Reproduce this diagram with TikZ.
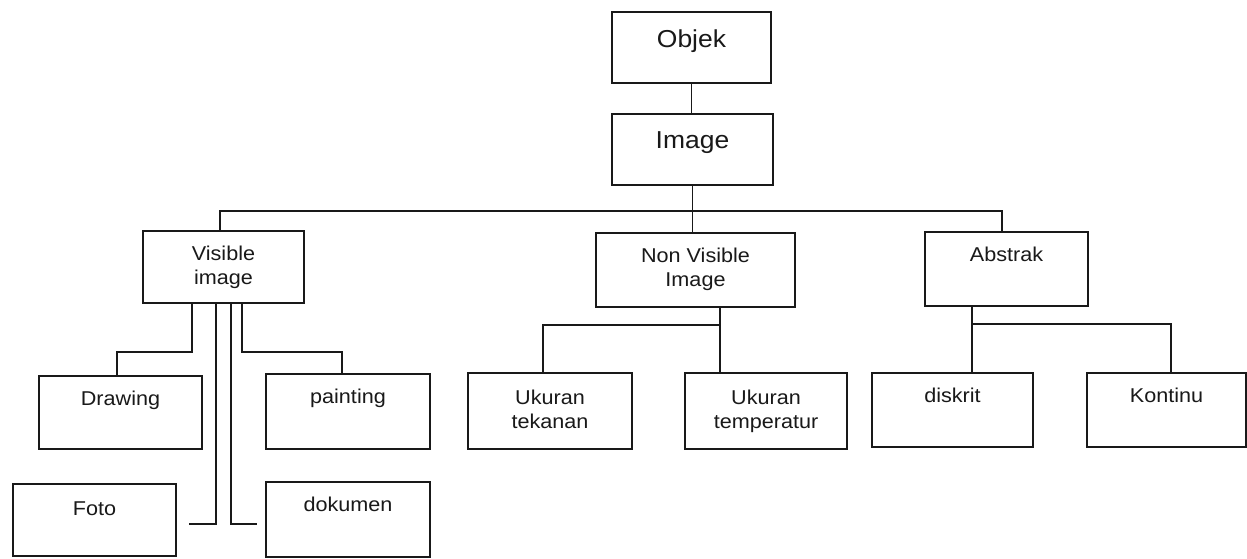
\documentclass[tikz,border=0pt]{standalone}
\usepackage{fontspec}
\setmainfont{Liberation Sans}[FakeStretch=1.08]
\begin{document}
\begin{tikzpicture}[x=1pt,y=-1pt,
  box/.style={draw=black!90, line width=1.7pt, inner sep=0pt},
  lab/.style={anchor=north, align=center, inner sep=0pt, yshift=-16pt, font=\fontsize{20}{24}\selectfont, text=black!90},
  labbig/.style={anchor=north, align=center, inner sep=0pt, yshift=-18pt, font=\fontsize{24.5}{29}\selectfont, text=black!90},
  conn/.style={draw=black!90, line width=1.7pt}]
\useasboundingbox[fill=white] (0,0) rectangle (1247,558);
% boxes
\node[box, minimum width=159pt, minimum height=71pt, label={[labbig]north:Objek}] (objek) at (691.5,47.5) {};
\node[box, minimum width=161pt, minimum height=71pt, label={[labbig]north:Image}] (image) at (692.5,149.5) {};
\node[box, minimum width=161pt, minimum height=72pt, label={[lab]north:Visible\\image}] (vis) at (223.5,267) {};
\node[box, minimum width=199pt, minimum height=74pt, label={[lab]north:Non Visible\\Image}] (nvi) at (695.5,270) {};
\node[box, minimum width=163pt, minimum height=74pt, label={[lab]north:Abstrak}] (abs) at (1006.5,269) {};
\node[box, minimum width=163pt, minimum height=73pt, label={[lab]north:Drawing}] (draw) at (120.5,412.5) {};
\node[box, minimum width=164pt, minimum height=75pt, label={[lab]north:painting}] (paint) at (348,411.5) {};
\node[box, minimum width=163pt, minimum height=72pt, label={[lab,yshift=-2pt]north:Foto}] (foto) at (94.5,520) {};
\node[box, minimum width=164pt, minimum height=75pt, label={[lab]north:dokumen}] (dok) at (348,519.5) {};
\node[box, minimum width=164pt, minimum height=76pt, label={[lab,yshift=-2pt]north:Ukuran\\tekanan}] (uk1) at (550,411) {};
\node[box, minimum width=162pt, minimum height=76pt, label={[lab,yshift=-2pt]north:Ukuran\\temperatur}] (uk2) at (766,411) {};
\node[box, minimum width=161pt, minimum height=74pt, label={[lab]north:diskrit}] (disk) at (952.5,410) {};
\node[box, minimum width=159pt, minimum height=74pt, label={[lab]north:Kontinu}] (kont) at (1166.5,410) {};
% junction coordinates
\coordinate (busL) at (220,211);
\coordinate (busR) at (1002,211);
\coordinate (nvj) at (720,325);
\coordinate (nvl) at (543,325);
\coordinate (abj) at (972,324);
\coordinate (abr) at (1171,324);
\coordinate (v1) at (192,352);
\coordinate (v1b) at (117,352);
\coordinate (v2) at (242,352);
\coordinate (v2b) at (342,352);
\coordinate (v3) at (216,524);
\coordinate (v3b) at (189,524);
\coordinate (v4) at (231,524);
\coordinate (v4b) at (257,524);
% connectors
\draw[conn] (objek.south) -- (objek.south |- image.north);
\draw[conn] (image.south) -- (image.south |- nvi.north);
\draw[conn] (busL |- vis.north) -- (busL) -- (busR) -- (busR |- abs.north);
\draw[conn] (nvi.south -| nvj) -- (nvj |- uk2.north);
\draw[conn] (nvj) -- (nvl) -- (nvl |- uk1.north);
\draw[conn] (abs.south -| abj) -- (abj |- disk.north);
\draw[conn] (abj) -- (abr) -- (abr |- kont.north);
\draw[conn] (vis.south -| v1) -- (v1) -- (v1b) -- (v1b |- draw.north);
\draw[conn] (vis.south -| v2) -- (v2) -- (v2b) -- (v2b |- paint.north);
\draw[conn] (vis.south -| v3) -- (v3) -- (v3b);
\draw[conn] (vis.south -| v4) -- (v4) -- (v4b);
\end{tikzpicture}
\end{document}
